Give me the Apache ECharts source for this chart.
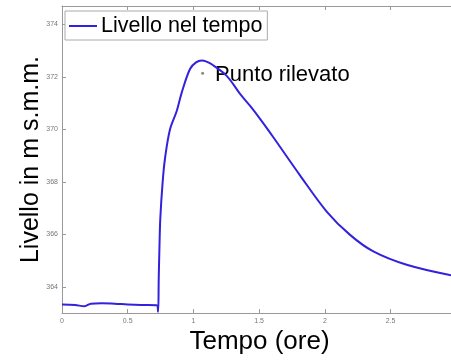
<!DOCTYPE html>
<html>
<head>
<meta charset="utf-8">
<script src="https://cdn.jsdelivr.net/npm/echarts@6/dist/echarts.min.js"></script>
<style>html,body{margin:0;padding:0;background:#fff}#c{width:451px;height:360px}</style>
</head>
<body>
<div id="c"></div>
<script>
var seriesName = 'Livello nel tempo';
var timeHours = [0, 0.1, 0.17, 0.22, 0.3, 0.4, 0.5, 0.6, 0.72, 0.731, 0.736, 0.741, 0.748, 0.766, 0.784, 0.822, 0.873, 0.911, 0.974, 1.02, 1.063, 1.1, 1.139, 1.253, 1.355, 1.43, 1.507, 1.608, 1.811, 2.014, 2.192, 2.369, 2.623, 2.96];
var levels = [363.33, 363.31, 363.26, 363.36, 363.38, 363.36, 363.33, 363.31, 363.30, 363.05, 364.3, 365.4, 366.6, 368.0, 368.9, 370.0, 370.7, 371.4, 372.3, 372.55, 372.62, 372.58, 372.48, 372.04, 371.35, 370.9, 370.4, 369.7, 368.25, 366.87, 365.98, 365.35, 364.84, 364.44];
var pointLabel = 'Punto rilevato';
var pointX = [1.07];
var pointY = [372.14];
var xTicks = [0, 0.5, 1, 1.5, 2, 2.5];
var yTicks = [364, 366, 368, 370, 372, 374];
var xTitle = 'Tempo (ore)';
var yTitle = 'Livello in m s.m.m.';

var chart = echarts.init(document.getElementById('c'));
var lineData = timeHours.map(function (t, i) { return [t, levels[i]]; });
var pointData = pointX.map(function (t, i) { return [t, pointY[i]]; });
var font = 'Liberation Sans, Arial, sans-serif';
chart.setOption({
  animation: false,
  backgroundColor: '#fff',
  grid: { left: 62, right: 0, top: 6, bottom: 45 },
  legend: {
    data: [{ name: seriesName, icon: 'rect' }],
    left: 65, top: 11,
    itemWidth: 28, itemHeight: 2, itemGap: 4,
    padding: [4, 5, 3, 4],
    backgroundColor: '#fff', borderColor: '#aaa', borderWidth: 1,
    textStyle: { fontSize: 21.5, color: '#000', fontFamily: font, padding: [0, 0, 0, -1] }
  },
  xAxis: [{
    type: 'value', min: 0, max: 2.96, interval: 0.5,
    name: xTitle, nameLocation: 'middle', nameGap: 12,
    nameTextStyle: { fontSize: 26, color: '#000', fontFamily: font, padding: [0, 0, 0, 6] },
    axisLine: { show: true, lineStyle: { color: '#999' } },
    axisTick: { show: true, inside: true, length: 4, lineStyle: { color: '#999' }, customValues: xTicks },
    axisLabel: { fontSize: 7, color: '#777', margin: 4, fontFamily: font, customValues: xTicks },
    splitLine: { show: false }
  }, {
    type: 'value', min: 0, max: 2.96, interval: 0.5, position: 'top',
    axisLine: { show: true, lineStyle: { color: '#999' } },
    axisTick: { show: true, inside: true, length: 4, lineStyle: { color: '#999' }, customValues: xTicks },
    axisLabel: { show: false },
    splitLine: { show: false }
  }],
  yAxis: {
    type: 'value', min: 363, max: 374.7,
    name: yTitle, nameLocation: 'middle', nameGap: 18, nameMoveOverlap: false,
    nameTextStyle: { fontSize: 25, color: '#000', fontFamily: font },
    axisLine: { show: true, lineStyle: { color: '#999' } },
    axisTick: { show: true, inside: true, length: 4, lineStyle: { color: '#999' }, customValues: yTicks },
    axisLabel: { fontSize: 7, color: '#777', margin: 4, fontFamily: font, customValues: yTicks },
    splitLine: { show: false }
  },
  series: [{
    name: seriesName, type: 'line', data: lineData,
    symbol: 'none', showSymbol: false,
    smooth: 0.35,
    lineStyle: { color: '#3322dd', width: 2 },
    itemStyle: { color: '#3322dd' }
  }, {
    name: pointLabel, type: 'scatter', data: pointData,
    symbolSize: 3, itemStyle: { color: '#888', opacity: 1 },
    label: { show: true, position: 'right', distance: 11, formatter: pointLabel,
      fontSize: 22, color: '#000', fontFamily: font, offset: [0, 2] }
  }]
});
</script>
</body>
</html>
